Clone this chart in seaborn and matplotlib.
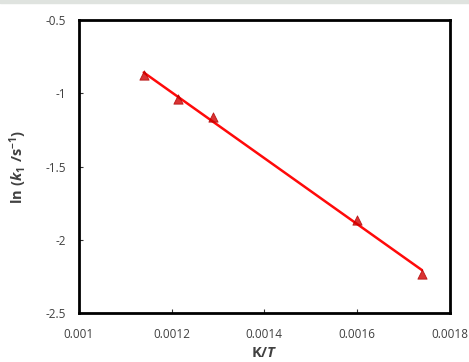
import matplotlib
matplotlib.use("Agg")
import matplotlib.pyplot as plt
import seaborn as sns
import pandas as pd
from matplotlib.patches import Rectangle

# Data
inv_T = [0.00114, 0.001213, 0.00129, 0.00160, 0.00174]
ln_k1 = [-0.877, -1.039, -1.160, -1.865, -2.234]

x_ticks = [0.001, 0.0012, 0.0014, 0.0016, 0.0018]
x_tick_labels = ["0.001", "0.0012", "0.0014", "0.0016", "0.0018"]
y_ticks = [-2.5, -2.0, -1.5, -1.0, -0.5]
y_tick_labels = ["-2.5", "-2", "-1.5", "-1", "-0.5"]

df = pd.DataFrame({"x": inv_T, "y": ln_k1})

sns.set_theme(style="white")
plt.rcParams["font.family"] = ["Open Sans", "DejaVu Sans"]
plt.rcParams["mathtext.fontset"] = "custom"
plt.rcParams["mathtext.rm"] = "Open Sans"
plt.rcParams["mathtext.it"] = "Open Sans:italic"
plt.rcParams["mathtext.bf"] = "Open Sans:bold"
plt.rcParams["mathtext.bfit"] = "Open Sans:bold:italic"

fig = plt.figure(figsize=(4.69, 3.62), dpi=100)
ax = fig.add_axes([0.168, 0.135, 0.791, 0.810])

sns.regplot(data=df, x="x", y="y", ax=ax, ci=None, marker="^",
            scatter_kws=dict(s=45, color="#d00000", edgecolors="#b00000", linewidths=0.6, zorder=3),
            line_kws=dict(color="#ff0a0a", lw=1.8))

ax.set_xlim(0.001, 0.0018)
ax.set_ylim(-2.5, -0.5)
ax.set_xticks(x_ticks)
ax.set_xticklabels(x_tick_labels)
ax.set_yticks(y_ticks)
ax.set_yticklabels(y_tick_labels)
ax.tick_params(axis="both", direction="in", length=3, width=0.8, color="#333333",
               labelsize=8.5, labelcolor="#404040", bottom=True, left=True)
ax.tick_params(axis="x", pad=11)
ax.tick_params(axis="y", pad=9)
for s in ax.spines.values():
    s.set_linewidth(2.0)
    s.set_color("black")

ax.set_xlabel(r"$\mathbf{K/}\mathbfit{T}$", fontsize=10.5, color="#404040", labelpad=3)
ax.set_ylabel(r"$\mathbf{ln\ (}\mathbfit{k}_{\mathbf{1}}\ \mathbf{/s^{-1})}$", fontsize=10.5,
              color="#404040", labelpad=12)

fig.patches.append(Rectangle((0, 1 - 3 / 362), 1, 3 / 362, transform=fig.transFigure,
                             color="#dfe3df", zorder=0))

fig.savefig("out.png", dpi=100)
